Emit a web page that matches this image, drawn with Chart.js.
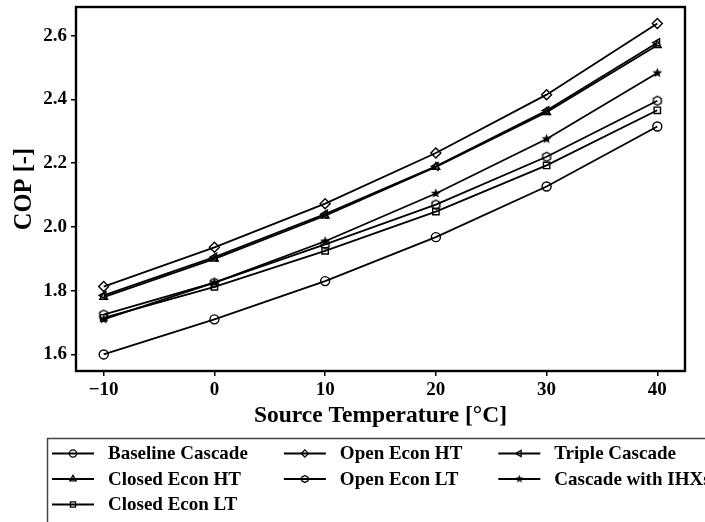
<!DOCTYPE html>
<html>
<head>
<meta charset="utf-8">
<script src="https://cdn.jsdelivr.net/npm/chart.js@4/dist/chart.umd.min.js"></script>
<style>
  html, body { margin: 0; padding: 0; background: #fff; }
  canvas { display: block; }
</style>
</head>
<body>
<canvas id="canvas" width="705" height="522"></canvas>
<script>
// source temperature, deg C
const temps = [-10, 0, 10, 20, 30, 40]
const xTicks = [-10, 0, 10, 20, 30, 40]
const yTicks = [1.6, 1.8, 2.0, 2.2, 2.4, 2.6]

const labels = ['Baseline Cascade', 'Closed Econ HT', 'Closed Econ LT', 'Open Econ HT', 'Open Econ LT', 'Triple Cascade', 'Cascade with IHXs']

const baseline = [1.600, 1.710, 1.830, 1.968, 2.127, 2.315]
const closedHT = [1.780, 1.900, 2.035, 2.188, 2.360, 2.570]
const closedLT = [1.715, 1.812, 1.925, 2.048, 2.193, 2.366]
const openHT = [1.813, 1.936, 2.073, 2.232, 2.415, 2.638]
const openLT = [1.725, 1.825, 1.945, 2.070, 2.220, 2.396]
const triple = [1.785, 1.905, 2.040, 2.190, 2.365, 2.578]
const ihx = [1.710, 1.825, 1.955, 2.105, 2.276, 2.483]

const series = [baseline, closedHT, closedLT, openHT, openLT, triple, ihx]

const FONT = "'Liberation Serif', 'Times New Roman', serif"

// little canvases for markers chart.js does not have
function markerCanvas(r, kind) {
  var size = Math.ceil(r * 2 + 5)
  var c = document.createElement('canvas')
  c.width = size; c.height = size
  var g = c.getContext('2d')
  var cx = size / 2, cy = size / 2
  g.beginPath()
  if (kind == 'star') {
    for (var i = 0; i < 10; i++) {
      var rr = i % 2 == 0 ? r * 1.15 : r * 0.48
      var a = -Math.PI / 2 + i * Math.PI / 5
      g.lineTo(cx + rr * Math.cos(a), cy + rr * Math.sin(a))
    }
    g.closePath()
    g.fillStyle = '#000'
    g.fill()
  } else {
    for (var i = 0; i < 6; i++) {
      var a = -Math.PI / 2 + i * Math.PI / 3
      g.lineTo(cx + r * Math.cos(a), cy + r * Math.sin(a))
    }
    g.closePath()
    g.strokeStyle = '#000'
    g.lineWidth = 1.4
    g.stroke()
  }
  return c
}

const styles = [
  { pointStyle: 'circle', rotation: 0 },
  { pointStyle: 'triangle', rotation: 0 },
  { pointStyle: 'rect', rotation: 0 },
  { pointStyle: 'rectRot', rotation: 0 },
  { pointStyle: markerCanvas(4.5, 'hex'), legend: markerCanvas(3.5, 'hex'), rotation: 0 },
  { pointStyle: 'triangle', rotation: -90 },
  { pointStyle: markerCanvas(4.6, 'star'), legend: markerCanvas(3.8, 'star'), rotation: 0 }
]

const datasets = series.map((s, i) => ({
  label: labels[i],
  data: s,
  borderColor: '#000',
  borderWidth: 1.8,
  backgroundColor: 'rgba(0,0,0,0)',
  pointBorderColor: '#000',
  pointBackgroundColor: 'rgba(0,0,0,0)',
  pointBorderWidth: 1.4,
  pointRadius: i == 3 ? 5 : 4.5,
  pointStyle: styles[i].pointStyle,
  pointRotation: styles[i].rotation,
  tension: 0
}))

// frame and legend drawn here, axis titles left to chart.js
const extras = {
  id: 'extras',
  afterDraw(chart) {
    const ctx = chart.ctx
    const a = chart.chartArea
    ctx.save()
    ctx.strokeStyle = '#000'
    ctx.lineWidth = 2.4
    ctx.strokeRect(a.left, a.top, a.right - a.left, a.bottom - a.top)

    // legend box
    ctx.strokeStyle = '#444'
    ctx.lineWidth = 1.5
    ctx.strokeRect(47.5, 438.5, 700, 120)

    ctx.font = 'bold 19px ' + FONT
    ctx.textBaseline = 'middle'
    const perCol = [3, 2, 2]
    const rowY = [453.5, 479, 504.5]
    let x = 52
    let k = 0
    perCol.forEach(n => {
      let maxW = 0
      for (let r = 0; r < n; r++) {
        const idx = k + r
        const y = rowY[r]
        ctx.strokeStyle = '#000'
        ctx.fillStyle = 'rgba(0,0,0,0)'
        ctx.lineWidth = 1.8
        ctx.beginPath()
        ctx.moveTo(x, y); ctx.lineTo(x + 42, y)
        ctx.stroke()
        const st = styles[idx]
        if (st.legend) {
          ctx.drawImage(st.legend, x + 21 - st.legend.width / 2, y - st.legend.height / 2)
        } else {
          ctx.lineWidth = 1.3
          Chart.helpers.drawPoint(ctx, { pointStyle: st.pointStyle, rotation: st.rotation, radius: 3.6, borderWidth: 1.3 }, x + 21, y)
        }
        ctx.fillStyle = '#000'
        ctx.fillText(labels[idx], x + 56, y + 1)
        maxW = Math.max(maxW, ctx.measureText(labels[idx]).width)
      }
      k += n
      x = x + 56 + maxW + 36
    })
    ctx.restore()
  }
}

new Chart(document.getElementById('canvas'), {
  type: 'line',
  data: { labels: temps, datasets: datasets },
  options: {
    responsive: false,
    animation: false,
    layout: { padding: { top: 7, right: 20, left: 0, bottom: 0 } },
    plugins: { legend: { display: false }, tooltip: { enabled: false } },
    scales: {
      x: {
        type: 'linear',
        min: -12.5,
        max: 42.5,
        bounds: 'data',
        afterBuildTicks: s => { s.ticks = xTicks.map(v => ({ value: v })) },
        afterFit: s => { s.height = 151; s.paddingLeft = 0; s.paddingRight = 0 },
        border: { display: false },
        grid: { drawOnChartArea: false, drawTicks: true, tickLength: 5, color: '#000', lineWidth: 1.5 },
        ticks: {
          color: '#000',
          padding: 3,
          maxRotation: 0,
          font: { family: FONT, size: 19, weight: 'bold' },
          callback: v => String(v).replace('-', '\u2212')
        },
        title: {
          display: true,
          text: 'Source Temperature [\u00b0C]',
          color: '#000',
          font: { family: FONT, size: 23.5, weight: 'bold' },
          padding: { top: 0, bottom: 92 }
        }
      },
      y: {
        min: 1.548,
        max: 2.690,
        bounds: 'data',
        afterBuildTicks: s => { s.ticks = yTicks.map(v => ({ value: v })) },
        afterFit: s => { s.width = 76; s.paddingTop = 0; s.paddingBottom = 0 },
        border: { display: false },
        grid: { drawOnChartArea: false, drawTicks: true, tickLength: 5, color: '#000', lineWidth: 1.5 },
        ticks: {
          color: '#000',
          padding: 4,
          font: { family: FONT, size: 19, weight: 'bold' },
          callback: v => v.toFixed(1)
        },
        title: {
          display: true,
          text: 'COP [-]',
          color: '#000',
          font: { family: FONT, size: 24.5, weight: 'bold' },
          padding: { top: 10, bottom: 0 }
        }
      }
    }
  },
  plugins: [extras]
})
</script>
</body>
</html>
